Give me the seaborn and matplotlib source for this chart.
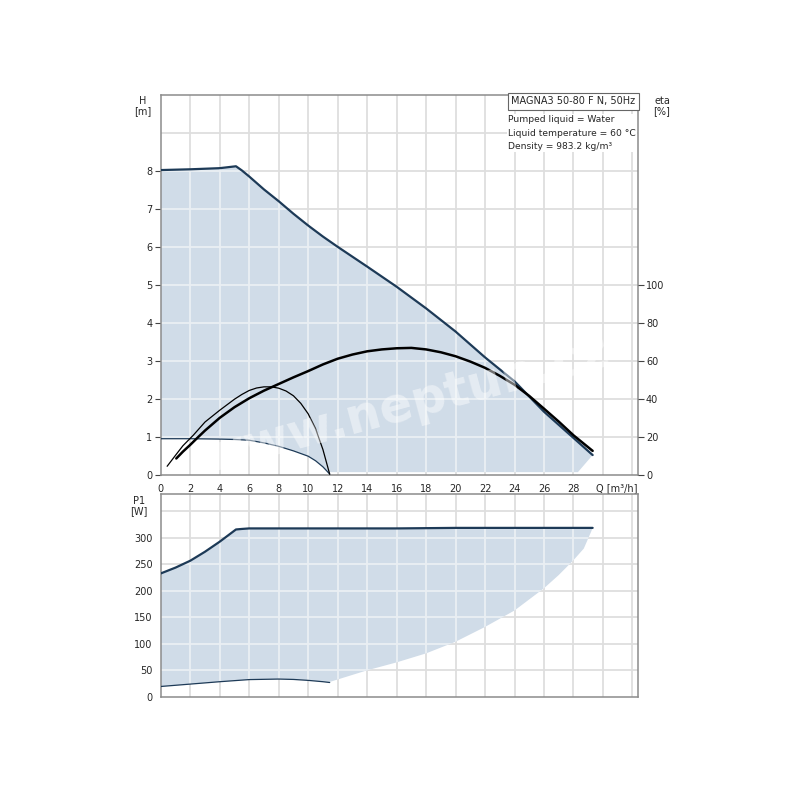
import numpy as np
import pandas as pd
import seaborn as sns
import matplotlib.pyplot as plt

# ---- data ----
# max speed head curve
q_hmax = [0, 2, 4, 5.1, 5.5, 6, 7, 8, 9, 10, 11, 12, 14, 16, 18, 20, 22, 24, 26, 28, 29.3]
h_max = [8.03, 8.05, 8.08, 8.13, 8.02, 7.86, 7.52, 7.21, 6.88, 6.57, 6.28, 6.01, 5.49, 4.96, 4.39, 3.78, 3.1, 2.47, 1.67, 0.98, 0.53]
# min speed head curve
q_hmin = [0, 2, 4, 5, 6, 7, 8, 9, 10, 10.5, 11, 11.46]
h_min = [0.96, 0.96, 0.95, 0.94, 0.92, 0.85, 0.76, 0.64, 0.5, 0.38, 0.22, 0.03]
# bottom edge of the operating range (after the min curve)
q_hedge = [11.46, 28.3, 29.3]
h_edge = [0.08, 0.08, 0.53]
# efficiency, max and min speed
q_eta_max = [1.05, 1.5, 2, 2.5, 3, 4, 5, 6, 7, 8, 9, 10, 11, 12, 13, 14, 15, 16, 17, 18,
             19, 20, 21, 22, 23, 24, 25, 26, 27, 28, 29.3]
eta_max = [8.8, 12.4, 16.0, 19.8, 23.5, 30.2, 35.8, 40.5, 44.5, 48, 51.5, 54.8, 58.3, 61.3,
           63.5, 65.2, 66.2, 66.8, 67.0, 66.2, 64.7, 62.6, 59.8, 56.5, 52.3, 47.6, 41.7,
           35.0, 28.2, 21.0, 12.8]
q_eta_min = [0.43, 1, 1.5, 2.2, 3, 4, 5, 5.5, 6, 6.5, 7, 7.5, 8, 8.5, 9, 9.5, 10, 10.5, 11, 11.46]
eta_min = [4.7, 10.5, 15.5, 21, 28, 34.2, 40, 42.5, 44.6, 45.9, 46.5, 46.5, 45.8, 44.3, 41.8,
           37.8, 32.3, 24.5, 13.5, 0.5]
# power input
q_pmax = [0, 1, 2, 3, 4, 5.1, 5.5, 6, 8, 12, 16, 20, 24, 28, 29.3]
p_max = [233, 244, 257, 274, 293, 316, 317, 318, 318, 318, 318, 319, 319, 319, 319]
q_pmin = [0, 2, 4, 6, 8, 9, 10, 11, 11.46]
p_min = [19.5, 24, 28.5, 32.5, 33.5, 32.8, 31, 28.5, 27]
q_pedge = [11.46, 14, 16, 18, 20, 22, 24, 26, 27, 28, 28.7, 29.2, 29.3]
p_edge = [28, 50, 65, 82, 104, 132, 163, 205, 230, 258, 280, 312, 319]

q_ticks = list(range(0, 30, 2))
h_ticks = list(range(0, 9))
eta_ticks = list(range(0, 101, 20))
p_ticks = list(range(0, 301, 50))

sns.set_style("white")
plt.rcParams['font.family'] = ['DejaVu Sans']

navy = '#1d3a57'
fill_c = '#d0dce8'
grid_c = '#dedede'
grid_in = '#eaeff4'
spine_c = '#8c8c8c'
fs = 7

fig = plt.figure(figsize=(8, 8), dpi=100)
ax1 = fig.add_axes([0.201, 0.406, 0.596, 0.475])
ax2 = fig.add_axes([0.201, 0.129, 0.596, 0.2535])


def style(ax, ymax, ystep, poly):
    ax.set_xlim(0, 32.35)
    ax.set_ylim(0, ymax)
    for s in ax.spines.values():
        s.set_color(spine_c)
        s.set_linewidth(1.1)
    ax.tick_params(direction='out', length=4, width=0.8,
                   color='#444444', labelsize=fs, pad=2)
    # grey grid behind the range, lighter grid clipped to the range
    for x in np.arange(2, 33, 2):
        ax.axvline(x, color=grid_c, lw=1.3, zorder=0.5)
        ln = ax.axvline(x, color=grid_in, lw=1.3, zorder=1.5)
        ln.set_clip_path(poly)
    for y in np.arange(ystep, ymax, ystep):
        ax.axhline(y, color=grid_c, lw=1.3, zorder=0.5)
        ln = ax.axhline(y, color=grid_in, lw=1.3, zorder=1.5)
        ln.set_clip_path(poly)


# ---- top panel: head ----
poly_q = q_hmax + q_hedge[::-1][1:] + q_hmin[::-1]
poly_h = h_max + h_edge[::-1][1:] + h_min[::-1]
area1 = ax1.fill(poly_q, poly_h, color=fill_c, lw=0, zorder=1)[0]
sns.lineplot(x=q_hmax, y=h_max, ax=ax1, color=navy, lw=1.6, sort=False, zorder=3)
sns.lineplot(x=q_hmin, y=h_min, ax=ax1, color=navy, lw=0.9, sort=False, zorder=3)
style(ax1, 10, 1, area1)
ax1.set_xticks(q_ticks)
ax1.set_yticks(h_ticks)
ax1.set_xlabel('')
ax1.set_ylabel('')

ax1r = ax1.twinx()
sns.lineplot(x=q_eta_max, y=eta_max, ax=ax1r, color='black', lw=1.8, sort=False)
sns.lineplot(x=q_eta_min, y=eta_min, ax=ax1r, color='black', lw=0.9, sort=False)
ax1r.set_ylim(0, 200)
ax1r.set_yticks(eta_ticks)
ax1r.set_ylabel('')
for s in ax1r.spines.values():
    s.set_visible(False)
ax1r.tick_params(direction='out', length=4, width=0.8, color='#444444',
                 labelsize=fs, pad=2)

ax1.text(1.0, -0.022, 'Q [m³/h]', transform=ax1.transAxes, ha='right',
         va='top', fontsize=fs)
fig.text(143 / 800, 1 - 106 / 800, 'H\n[m]', ha='center', va='center',
         fontsize=fs, linespacing=1.1)
fig.text(662 / 800, 1 - 106 / 800, 'eta\n[%]', ha='center', va='center',
         fontsize=fs, linespacing=1.1)

ax1.text(0.995, 0.997, 'MAGNA3 50-80 F N, 50Hz', transform=ax1.transAxes,
         ha='right', va='top', fontsize=fs,
         bbox=dict(boxstyle='square,pad=0.35', fc='white', ec='#666666', lw=0.8),
         zorder=5)
ax1.text(0.728, 0.947, 'Pumped liquid = Water\nLiquid temperature = 60 °C\n'
         'Density = 983.2 kg/m³', transform=ax1.transAxes, ha='left',
         va='top', fontsize=6.6, linespacing=1.6, zorder=5,
         bbox=dict(boxstyle='square,pad=0.1', fc='white', ec='none'))

# watermark
fig.text(405 / 800, 1 - 405 / 800, 'www.neptun.cz', ha='center', va='center',
         rotation=15, fontsize=35, fontweight='bold', color='white', alpha=0.45,
         zorder=10)

# ---- bottom panel: power ----
ppoly_q = q_pmax + q_pedge[::-1][1:] + q_pmin[::-1]
ppoly_p = p_max + p_edge[::-1][1:] + p_min[::-1]
area2 = ax2.fill(ppoly_q, ppoly_p, color=fill_c, lw=0, zorder=1)[0]
sns.lineplot(x=q_pmax, y=p_max, ax=ax2, color=navy, lw=1.6, sort=False, zorder=3)
sns.lineplot(x=q_pmin, y=p_min, ax=ax2, color=navy, lw=0.9, sort=False, zorder=3)
style(ax2, 383, 50, area2)
ax2.set_xticks(q_ticks)
ax2.set_xticklabels([])
ax2.set_yticks(p_ticks + [350])
ax2.set_yticklabels([str(v) for v in p_ticks] + [''])
ax2.set_xlabel('')
ax2.set_ylabel('')
fig.text(139 / 800, 1 - 506 / 800, 'P1\n[W]', ha='center', va='center',
         fontsize=fs, linespacing=1.1)

fig.savefig('out.png', dpi=100)
